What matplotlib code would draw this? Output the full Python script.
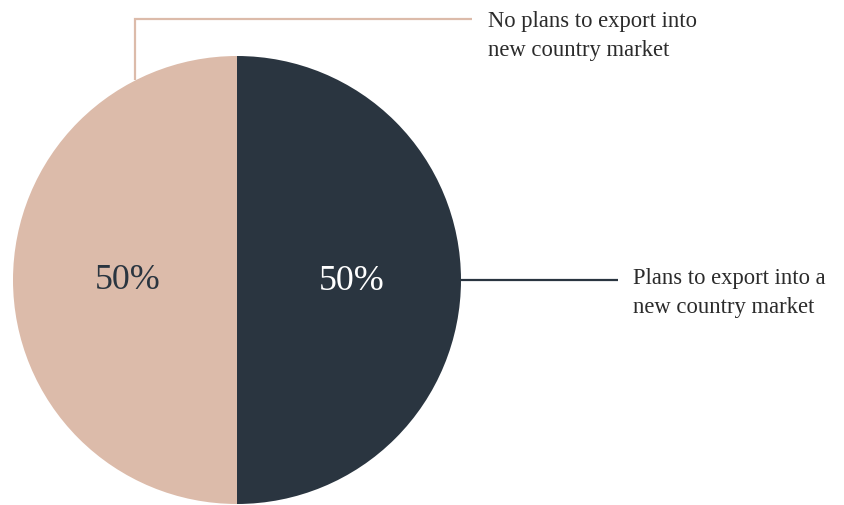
import numpy as np
import matplotlib
matplotlib.use("Agg")
import matplotlib.pyplot as plt

labels = ["Plans to export into a\nnew country market",
          "No plans to export into\nnew country market"]
values = [50, 50]
colors = ["#2a3540", "#dcbbaa"]
pct_colors = ["white", "#2a3540"]

plt.rcParams["font.family"] = ["Liberation Serif", "DejaVu Serif"]

W, H, DPI = 844, 506, 100
fig = plt.figure(figsize=(W / DPI, H / DPI), dpi=DPI)
ax = fig.add_axes([0, 0, 1, 1])

# pie centre and radius in pixel units, used to lay out the axes limits
cx, cy, r = 237, 281, 224

wedges, texts, autotexts = ax.pie(
    values, colors=colors, startangle=90, counterclock=False,
    autopct="%d%%", pctdistance=0.5, radius=1, center=(0, 0),
    wedgeprops=dict(linewidth=0), textprops=dict(fontsize=25.8),
    frame=True)
ax.axis("off")
ax.set_xlim(-cx / r, (W - cx) / r)
ax.set_ylim(-(H - cy) / r, cy / r)
ax.set_aspect("equal")
for t, c in zip(autotexts, pct_colors):
    t.set_color(c)
    px, py = t.get_position()
    t.set_position((px + 0.013, py))

label_kw = dict(fontsize=16.3, color="#2b2b2b", ha="left", va="center",
                linespacing=1.5)

# leader for the right-hand wedge: straight out from its middle
w0 = wedges[0]
mid0 = np.deg2rad((w0.theta1 + w0.theta2) / 2)
x0, y0 = np.cos(mid0), np.sin(mid0)
ax.plot([x0, x0 + 0.70], [y0, y0], color=colors[0], lw=1.6,
        solid_capstyle="butt")
ax.text(x0 + 0.77, y0 - 0.054, labels[0], **label_kw)

# leader for the left-hand wedge: up from the rim, then across to the label
ang1 = np.deg2rad(117)
x1, y1 = np.cos(ang1), np.sin(ang1)
top = 1.167
ax.plot([x1, x1, x1 + 1.505], [y1, top, top], color=colors[1], lw=1.6,
        solid_capstyle="butt", solid_joinstyle="miter")
ax.text(x1 + 1.575, top - 0.072, labels[1], **label_kw)

fig.savefig("out.png", dpi=DPI, facecolor="white")
